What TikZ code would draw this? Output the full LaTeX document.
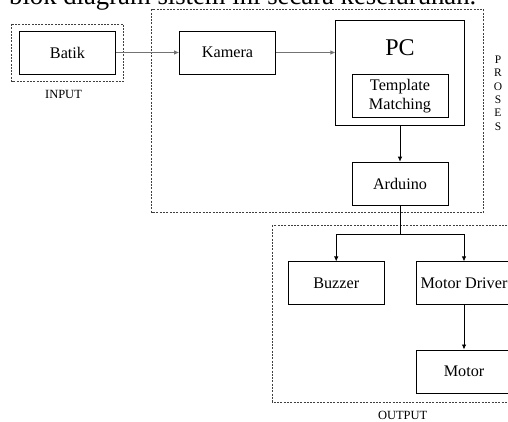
\documentclass[tikz,border=0pt]{standalone}
\usepackage{fontspec}
\setmainfont{Liberation Serif}
\usetikzlibrary{positioning,arrows.meta}

\begin{document}
\begin{tikzpicture}[
    x=1pt, y=-1pt,
    blok/.style={draw, rectangle, line width=0.8pt, minimum width=96pt, minimum height=43pt, inner sep=0pt, align=center, font=\fontsize{16.2}{18.8}\selectfont},
    grup/.style={draw=black!75, line width=0.6pt, dash pattern=on 2pt off 1.3pt},
    ket/.style={font=\fontsize{12.5}{14}\selectfont, inner sep=0pt},
    panah/.style={-{Latex[length=5pt,width=4.5pt]}, line width=0.8pt}
]
\useasboundingbox (0,0) rectangle (508,422);

% Teks paragraf (terpotong)
\node[anchor=base west, inner sep=0pt, font=\fontsize{26.7}{30}\selectfont] (judul) at (9,4.5) {blok diagram sistem ini secara keseluruhan.};

% Kotak kelompok
\draw[grup] (11.7,24) rectangle (123.3,81.7);
\draw[grup] (151.7,9.3) rectangle (483.3,212.5);
\draw[grup] (272.3,225.3) rectangle (520,402);

% Input
\node[blok] (batik) at (67.5,52.5) {Batik};

% Proses
\node[blok] (kamera) at (227.5,52.5) {Kamera};
\node[blok, minimum width=128.4pt, minimum height=104.3pt] (pc) at (400,72.85) {};
\node[font=\fontsize{24}{28}\selectfont] (pctext) at (400,47.5) {PC};
\node[blok] (template) at (400,96.2) {Template\\Matching};
\node[blok] (arduino) at (400,183.6) {Arduino};

% Output
\node[blok] (buzzer) at (336.2,283.3) {Buzzer};
\node[blok] (driver) at (464,283.3) {Motor Driver};
\node[blok, below=44.3pt of driver] (motor) {Motor};

% Keterangan
\node[ket] (input) at (63.5,94) {INPUT};
\node[ket] (output) at (402.7,415) {OUTPUT};
\node[ket, align=center, font=\fontsize{11.5}{13.4}\selectfont] (proses) at (498,93) {P\\R\\O\\S\\E\\S};

% Panah
\draw[panah, black!55] (batik) -- (kamera);
\draw[panah, black!55] (kamera.east) -- (kamera.east -| pc.west);
\draw[panah] (pc) -- (arduino);
\coordinate (cabang) at (400,234.3);
\draw[line width=0.8pt] (arduino) -- (cabang);
\draw[panah] (cabang) -| (buzzer);
\draw[panah] (cabang) -| (driver);
\draw[panah] (driver) -- (motor);
\end{tikzpicture}
\end{document}
